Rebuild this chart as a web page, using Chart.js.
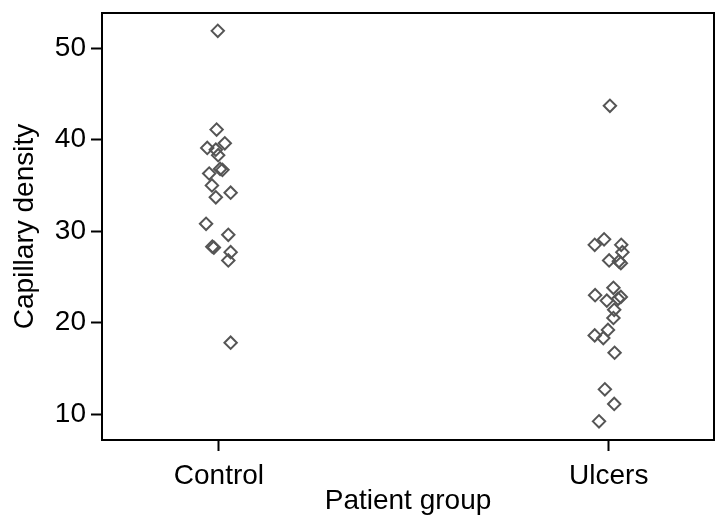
<!DOCTYPE html>
<html>
<head>
<meta charset="utf-8">
<script src="https://cdn.jsdelivr.net/npm/chart.js@4/dist/chart.umd.min.js"></script>
<style>
    html, body { margin: 0; padding: 0; background: #fff; }
    #wrap { width: 715px; height: 521px; }
</style>
</head>
<body>
<div id="wrap"><canvas id="chart" width="715" height="521"></canvas></div>
<script>
// groups on the x axis (positions 1 and 2)
const groups = ['Control', 'Ulcers'];
const yTicks = [10, 20, 30, 40, 50];

// capillary density, with the jitter offset of each point
const controlDensity = [51.9, 41.1, 39.6, 39.1, 38.9, 38.3, 36.8, 36.7, 36.3, 35.0, 34.2, 33.7, 30.8, 29.6, 28.3, 28.2, 27.7, 26.8, 17.8];
const controlJitter  = [-0.003, -0.006, 0.015, -0.03, -0.008, -0.002, 0.003, 0.009, -0.025, -0.018, 0.03, -0.008, -0.033, 0.024, -0.017, -0.013, 0.03, 0.024, 0.03];

const ulcersDensity = [43.7, 29.1, 28.5, 28.5, 27.7, 26.8, 26.7, 26.5, 23.8, 23.0, 22.8, 22.6, 22.4, 21.4, 20.5, 19.2, 18.6, 18.3, 16.7, 12.7, 11.1, 9.2];
const ulcersJitter  = [0.003, -0.012, -0.036, 0.032, 0.035, 0.001, 0.026, 0.031, 0.012, -0.035, 0.031, 0.024, -0.005, 0.014, 0.012, -0.002, -0.036, -0.014, 0.015, -0.01, 0.014, -0.025];

function points(pos, vals, jit) {
    return vals.map((v, i) => ({ x: pos + jit[i], y: v }));
}

const markerStyle = {
    pointStyle: 'rectRot',
    pointRadius: 6.2,
    pointHoverRadius: 6.2,
    pointBorderColor: '#555555',
    pointBackgroundColor: 'rgba(0,0,0,0)',
    pointBorderWidth: 2,
    showLine: false
};

// box around the plot area (top and right spines)
const frame = {
    id: 'frame',
    afterDatasetsDraw(chart) {
        const a = chart.chartArea;
        const ctx = chart.ctx;
        ctx.save();
        ctx.strokeStyle = '#000';
        ctx.lineWidth = 2;
        ctx.strokeRect(a.left, a.top, a.right - a.left, a.bottom - a.top);
        ctx.restore();
    }
};

const font = { family: "'Liberation Sans', Arial, Helvetica, sans-serif", size: 28 };

new Chart(document.getElementById('chart'), {
    type: 'scatter',
    data: {
        datasets: [
            Object.assign({ label: groups[0], data: points(1, controlDensity, controlJitter) }, markerStyle),
            Object.assign({ label: groups[1], data: points(2, ulcersDensity, ulcersJitter) }, markerStyle)
        ]
    },
    options: {
        responsive: false,
        animation: false,
        events: [],
        layout: { autoPadding: false, padding: { top: 13, right: 1, left: 0, bottom: 0 } },
        plugins: { legend: { display: false }, tooltip: { enabled: false } },
        scales: {
            x: {
                type: 'linear',
                min: 0.7,
                max: 2.27,
                afterBuildTicks: s => { s.ticks = groups.map((g, i) => ({ value: i + 1 })); },
                afterFit: s => { s.height = 81; s.paddingLeft = 0; s.paddingRight = 0; },
                ticks: {
                    color: '#000',
                    font: font,
                    padding: 8,
                    callback: v => groups[v - 1]
                },
                grid: { drawOnChartArea: false, drawTicks: true, tickLength: 11, tickWidth: 2, color: '#000' },
                border: { display: true, color: '#000', width: 2 },
                title: { display: true, text: 'Patient group', color: '#000', font: font, padding: { top: 0, bottom: 3 } }
            },
            y: {
                min: 7.16,
                max: 53.85,
                afterBuildTicks: s => { s.ticks = yTicks.map(v => ({ value: v })); },
                afterFit: s => { s.width = 102; s.paddingTop = 0; s.paddingBottom = 0; },
                ticks: { color: '#000', font: font, padding: 5 },
                grid: { drawOnChartArea: false, drawTicks: true, tickLength: 11, tickWidth: 2, color: '#000' },
                border: { display: true, color: '#000', width: 2 },
                title: { display: true, text: 'Capillary density', color: '#000', font: font, padding: { top: 8, bottom: 0 } }
            }
        }
    },
    plugins: [frame]
});
</script>
</body>
</html>
